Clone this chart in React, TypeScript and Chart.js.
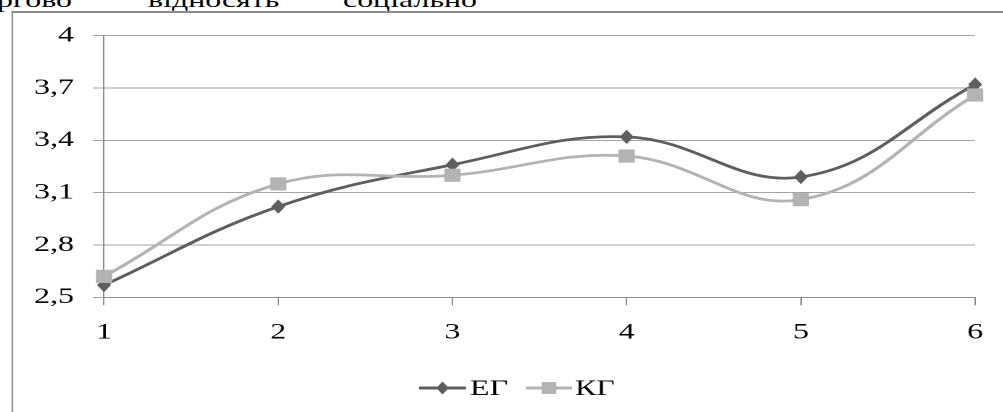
import React, { useEffect, useRef } from "react";
import { Chart, registerables } from "chart.js";

Chart.register(...registerables);

// ---- data ----
const CATEGORIES = ["1", "2", "3", "4", "5", "6"];
const SERIES_NAMES = ["ЕГ", "КГ"];
const EG_VALUES = [2.57, 3.02, 3.26, 3.42, 3.19, 3.72];
const KG_VALUES = [2.62, 3.15, 3.2, 3.31, 3.06, 3.66];
const Y_TICK_VALUES = [2.5, 2.8, 3.1, 3.4, 3.7, 4];
const Y_TICK_LABELS = ["2,5", "2,8", "3,1", "3,4", "3,7", "4"];
const TOP_WORDS = ["ергово", "відносять", "соціально"];

// ---- layout (the reference image is horizontally stretched) ----
const S = 1.45;
const W = Math.round(1003 / S);
const H = 412;
const FONT = "'Liberation Serif', 'Times New Roman', serif";
const FS = 22;
const PLOT_LEFT = 104 / S;
const PLOT_RIGHT = 983 / S;
const PLOT_TOP = 35.7;
const PLOT_BOTTOM = 297.3;
const EG_COLOR = "#5e5e5e";
const KG_COLOR = "#b3b3b3";
const GRID = "#a3a3a3";
const AXIS = "#8c8c8c";
const LEGEND_Y = 388;
const LEGEND_POS = [
  { x1: 419 / S, x2: 466 / S, tx: 470 / S },
  { x1: 526 / S, x2: 572 / S, tx: 575 / S },
];
// marker half sizes (unstretched x, y)
const MARKERS = [
  { shape: "diamond", hw: 4.8, hh: 7.2 },
  { shape: "square", hw: 5.6, hh: 6.6 },
];

function drawMarker(
  ctx: CanvasRenderingContext2D,
  shape: string,
  x: number,
  y: number,
  hw: number,
  hh: number,
  color: string
) {
  ctx.save();
  ctx.fillStyle = color;
  ctx.beginPath();
  if (shape === "diamond") {
    ctx.moveTo(x, y - hh);
    ctx.lineTo(x + hw, y);
    ctx.lineTo(x, y + hh);
    ctx.lineTo(x - hw, y);
    ctx.closePath();
  } else {
    ctx.rect(x - hw, y - hh, 2 * hw, 2 * hh);
  }
  ctx.fill();
  ctx.restore();
}

const markerPlugin = {
  id: "customMarkers",
  afterDatasetDraw(chart: any, args: any) {
    const i = args.index;
    const ds = chart.data.datasets[i];
    const m = MARKERS[i];
    const meta = chart.getDatasetMeta(i);
    meta.data.forEach((el: any) => {
      drawMarker(chart.ctx, m.shape, el.x, el.y, m.hw, m.hh, ds.borderColor);
    });
  },
};

const legendPlugin = {
  id: "lineLegend",
  afterDraw(chart: any) {
    const ctx = chart.ctx as CanvasRenderingContext2D;
    chart.data.datasets.forEach((ds: any, i: number) => {
      const p = LEGEND_POS[i];
      const cx = (p.x1 + p.x2) / 2;
      const m = MARKERS[i];
      ctx.save();
      ctx.strokeStyle = ds.borderColor;
      ctx.lineWidth = 3;
      ctx.beginPath();
      ctx.moveTo(p.x1, LEGEND_Y);
      ctx.lineTo(p.x2, LEGEND_Y);
      ctx.stroke();
      drawMarker(ctx, m.shape, cx, LEGEND_Y, m.hw * 0.9, m.hh * 0.9, ds.borderColor);
      ctx.fillStyle = "#000";
      ctx.font = `${FS}px ${FONT}`;
      ctx.textBaseline = "middle";
      ctx.textAlign = "left";
      ctx.fillText(ds.label, p.tx, LEGEND_Y + 1);
      ctx.restore();
    });
  },
};

export default function App() {
  const ref = useRef<HTMLCanvasElement | null>(null);

  useEffect(() => {
    if (!ref.current) return;
    const chart = new Chart(ref.current, {
      type: "line",
      data: {
        labels: CATEGORIES,
        datasets: [
          {
            label: SERIES_NAMES[0],
            data: EG_VALUES,
            borderColor: EG_COLOR,
            backgroundColor: EG_COLOR,
            pointRadius: 0,
            borderWidth: 2.75,
            tension: 0.4,
            fill: false,
            order: 1,
          },
          {
            label: SERIES_NAMES[1],
            data: KG_VALUES,
            borderColor: KG_COLOR,
            backgroundColor: KG_COLOR,
            pointRadius: 0,
            borderWidth: 2.75,
            tension: 0.4,
            fill: false,
            order: 0,
          },
        ] as any,
      },
      options: {
        animation: false,
        responsive: false,
        devicePixelRatio: 2,
        layout: {
          padding: { left: 0, top: PLOT_TOP, right: W - PLOT_RIGHT, bottom: 0 },
        },
        plugins: {
          legend: { display: false },
          tooltip: { enabled: false },
          title: { display: false },
        },
        scales: {
          x: {
            type: "category",
            offset: false,
            grid: {
              drawOnChartArea: false,
              drawTicks: true,
              tickLength: 8,
              color: AXIS,
            },
            border: { display: true, color: AXIS, width: 1 },
            ticks: {
              color: "#000",
              font: { family: FONT, size: FS },
              padding: 14,
              maxRotation: 0,
              autoSkip: false,
            },
            afterFit(scale: any) {
              scale.height = H - PLOT_BOTTOM;
            },
          },
          y: {
            min: Y_TICK_VALUES[0],
            max: Y_TICK_VALUES[Y_TICK_VALUES.length - 1],
            afterBuildTicks(scale: any) {
              scale.ticks = Y_TICK_VALUES.map((v) => ({ value: v }));
            },
            grid: {
              color: GRID,
              lineWidth: 1,
              tickLength: 11 / S,
              drawTicks: true,
            },
            border: { display: true, color: AXIS, width: 1 },
            ticks: {
              color: "#000",
              font: { family: FONT, size: FS },
              padding: 19 / S,
              callback: (_v: any, i: number) => Y_TICK_LABELS[i],
            },
            afterFit(scale: any) {
              scale.width = PLOT_LEFT;
            },
          },
        },
      },
      plugins: [markerPlugin, legendPlugin],
    } as any);
    return () => chart.destroy();
  }, []);

  const wordStyle: React.CSSProperties = {
    position: "absolute",
    top: -11.2,
    fontFamily: FONT,
    fontSize: FS,
    lineHeight: `${FS}px`,
    color: "#000",
    whiteSpace: "nowrap",
  };

  return (
    <div
      style={{
        position: "absolute",
        left: 0,
        top: 0,
        width: W,
        height: H,
        overflow: "hidden",
        transform: `scaleX(${S})`,
        transformOrigin: "0 0",
        background: "#fff",
      }}
    >
      <div style={{ ...wordStyle, left: -200, width: 200 + 72 / S, textAlign: "right" }}>
        {TOP_WORDS[0]}
      </div>
      <div style={{ ...wordStyle, left: 148 / S }}>{TOP_WORDS[1]}</div>
      <div style={{ ...wordStyle, left: 343 / S }}>{TOP_WORDS[2]}</div>
      <div
        style={{
          position: "absolute",
          left: 11 / S,
          top: 11,
          width: 2000,
          height: 2000,
          borderLeft: `${1.5}px solid ${AXIS}`,
          borderTop: `2px solid ${AXIS}`,
        }}
      />
      <canvas
        ref={ref}
        width={W}
        height={H}
        style={{ position: "absolute", left: 0, top: 0, width: W, height: H }}
      />
    </div>
  );
}
